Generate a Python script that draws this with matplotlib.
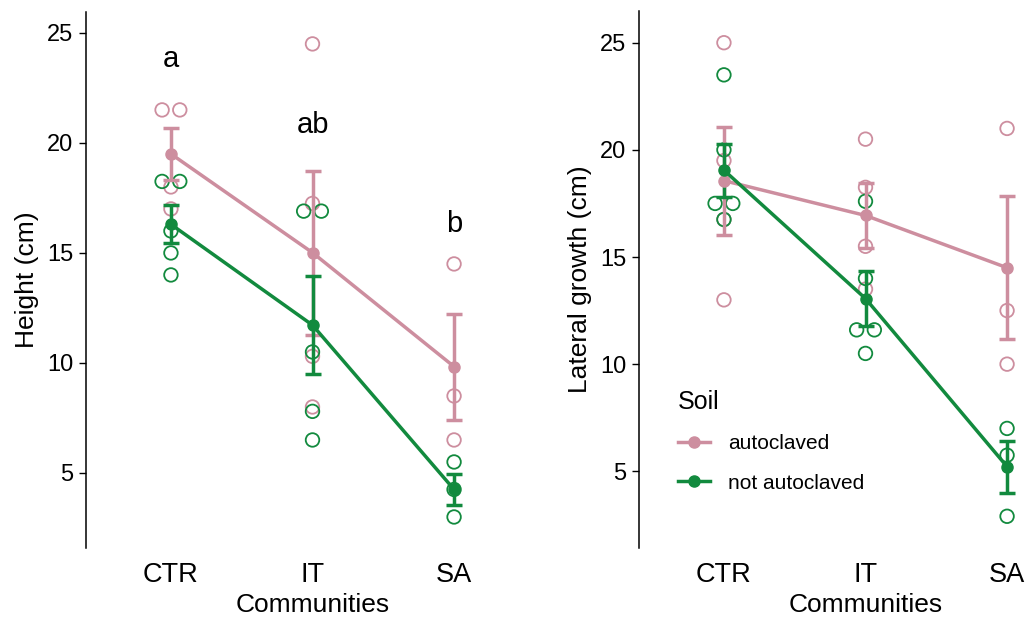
import matplotlib
matplotlib.use("Agg")
import matplotlib.pyplot as plt
from matplotlib.lines import Line2D
import numpy as np

plt.rcParams['font.family'] = ['Liberation Sans', 'DejaVu Sans']

communities = ["CTR", "IT", "SA"]
soils = ["autoclaved", "not autoclaved"]

height_autoclaved = [[21.5, 21.5, 18.0, 17.0], [24.5, 17.25, 10.3, 8.0], [14.5, 8.5, 6.5]]
height_not_autoclaved = [[18.25, 18.25, 16.0, 15.0, 14.0], [16.9, 16.9, 10.5, 7.8, 6.5], [5.5, 4.25, 3.0]]
lateral_autoclaved = [[25.0, 19.5, 16.75, 13.0], [20.5, 18.25, 15.5, 13.5], [21.0, 12.5, 10.0]]
lateral_not_autoclaved = [[23.5, 20.0, 17.5, 17.5, 16.75], [17.6, 14.0, 11.6, 11.6, 10.5], [7.0, 5.75, 2.9]]

# significance letters over the height panel
height_letters = ["a", "ab", "b"]
height_letter_y = [23.45, 20.47, 15.97]

PINK = "#CD8E9F"
GREEN = "#128A3E"


def spread(vals, width=0.125):
    # put tied values side by side, like a small beeswarm
    vals = np.asarray(vals)
    offs = np.zeros(len(vals))
    for v in np.unique(vals):
        idx = np.where(vals == v)[0]
        offs[idx] = (np.arange(len(idx)) - (len(idx) - 1) / 2) * width
    return offs


def panel(ax, auto, notauto, ylabel, ylim):
    groups = [(auto, PINK), (notauto, GREEN)]
    for obs, col in groups:
        for i, vals in enumerate(obs):
            ax.scatter(i + spread(vals), vals, s=95, facecolors='none',
                       edgecolors=col, linewidths=1.3, zorder=2)
    for obs, col in groups:
        means = [np.mean(v) for v in obs]
        ses = [np.std(v, ddof=1) / np.sqrt(len(v)) for v in obs]
        ax.errorbar(range(len(obs)), means, yerr=ses, color=col, lw=2.5,
                    marker='o', ms=8, mec=col, capsize=5.5, capthick=2.5,
                    elinewidth=2.5, zorder=3)

    ax.set_xlim(-0.6, 2.6)
    ax.set_ylim(*ylim)
    ax.set_xticks(range(len(communities)))
    ax.set_xticklabels(communities)
    ax.set_yticks([5, 10, 15, 20, 25])
    for s in ["top", "right", "bottom"]:
        ax.spines[s].set_visible(False)
    ax.spines["left"].set_linewidth(1.1)
    ax.tick_params(axis='x', length=0, pad=10, labelsize=19.5)
    ax.tick_params(axis='y', length=5, width=1, pad=4, labelsize=17)
    ax.set_xlabel("Communities", fontsize=19, labelpad=4)
    ax.set_ylabel(ylabel, fontsize=19)
    ax.yaxis.set_label_coords(-0.103, 0.5)


fig = plt.figure(figsize=(10.27, 6.17), dpi=100)
ax1 = fig.add_axes([86 / 1027, 69 / 617, 453 / 1027, 536 / 617])
ax2 = fig.add_axes([639 / 1027, 69 / 617, 453 / 1027, 537 / 617])

panel(ax1, height_autoclaved, height_not_autoclaved, "Height (cm)", (1.59, 25.95))
panel(ax2, lateral_autoclaved, lateral_not_autoclaved, "Lateral growth (cm)", (1.42, 26.48))

for i, (lab, y) in enumerate(zip(height_letters, height_letter_y)):
    ax1.text(i, y, lab, ha='center', va='baseline', fontsize=21)

handles = [Line2D([], [], color=c, lw=2.5, marker='o', ms=8, mec=c) for c in (PINK, GREEN)]
leg = fig.legend(handles, soils, title="Soil", loc='upper left',
                 bbox_to_anchor=(0.660, 0.368), frameon=False, fontsize=15,
                 title_fontsize=18, handlelength=1.55, handletextpad=0.85,
                 labelspacing=0.98, borderpad=0, borderaxespad=0,
                 alignment='left')

fig.savefig("out.png", dpi=100)
